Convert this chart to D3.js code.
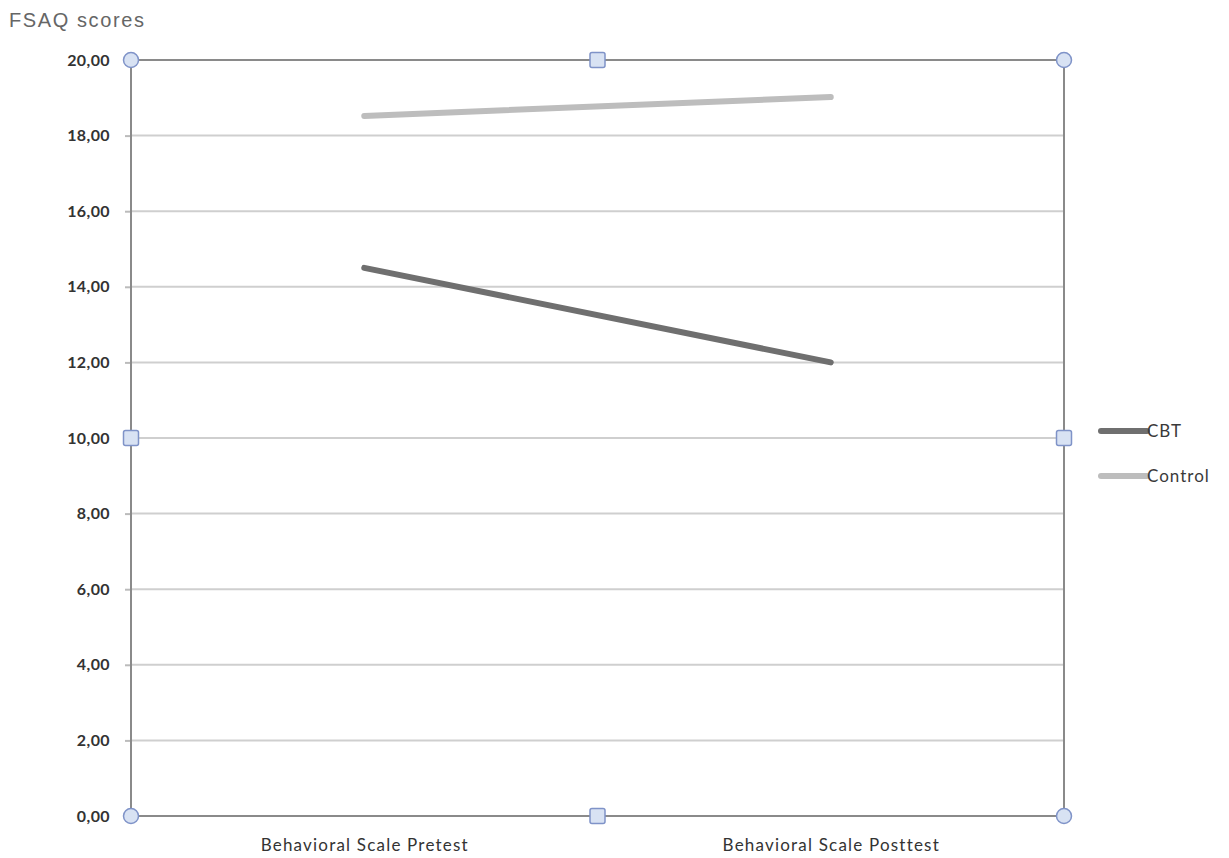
<!DOCTYPE html>
<html>
<head>
<meta charset="utf-8">
<script src="https://cdn.jsdelivr.net/npm/d3@7"></script>
<style>
  body { margin: 0; background: #fff; }
  svg { display: block; }
  .tick text { font-family: Lato, "Open Sans", sans-serif; fill: #333; }
</style>
</head>
<body>
<svg id="chart" width="1229" height="858"></svg>
<script>
const categories = ['Behavioral Scale Pretest', 'Behavioral Scale Posttest'];
const seriesNames = ['CBT', 'Control'];
const cbtValues = [14.5, 12.0];
const controlValues = [18.52, 19.02];
const yTicks = [0, 2, 4, 6, 8, 10, 12, 14, 16, 18, 20];

const svg = d3.select('#chart');
const plotL = 131, plotR = 1064, plotT = 60, plotB = 816;

const x = d3.scalePoint().domain(categories).range([plotL, plotR]).padding(0.5);
const y = d3.scaleLinear().domain([0, 20]).range([plotB, plotT]);
const fmt = d => d.toFixed(2).replace('.', ',');

// gridlines
svg.append('g')
  .selectAll('line')
  .data(yTicks.filter(d => d > 0 && d < 20))
  .enter().append('line')
  .attr('x1', plotL).attr('x2', plotR)
  .attr('y1', d => y(d)).attr('y2', d => y(d))
  .attr('stroke', '#cfcfcf').attr('stroke-width', 2);

// y axis
const yAxis = svg.append('g')
  .attr('transform', 'translate(' + plotL + ',0)')
  .call(d3.axisLeft(y).tickValues(yTicks).tickFormat(fmt).tickSize(6).tickPadding(15));
yAxis.select('.domain').remove();
yAxis.selectAll('.tick line').attr('stroke', '#bbb').attr('stroke-width', 2);
yAxis.selectAll('.tick text').attr('font-size', 16).attr('font-weight', 'bold').attr('fill', '#3a3a3a')
  .attr('letter-spacing', 0.4);

// x axis labels
const xAxis = svg.append('g')
  .attr('transform', 'translate(0,' + plotB + ')')
  .call(d3.axisBottom(x).tickSize(0).tickPadding(23));
xAxis.select('.domain').remove();
xAxis.selectAll('.tick text').attr('font-size', 17).attr('letter-spacing', 1.2).attr('fill', '#3a3a3a');

// frame
svg.append('rect')
  .attr('x', plotL).attr('y', plotT)
  .attr('width', plotR - plotL).attr('height', plotB - plotT)
  .attr('fill', 'none').attr('stroke', '#8a8a8a').attr('stroke-width', 2);

// series
const colors = { 'CBT': '#6f6f6f', 'Control': '#bdbdbd' };
const allSeries = [
  { name: 'CBT', values: cbtValues },
  { name: 'Control', values: controlValues }
];
const line = d3.line().x((d, i) => x(categories[i])).y(d => y(d));
svg.append('g').selectAll('path')
  .data(allSeries)
  .enter().append('path')
  .attr('d', d => line(d.values))
  .attr('fill', 'none')
  .attr('stroke', d => colors[d.name])
  .attr('stroke-width', 6)
  .attr('stroke-linecap', 'round');

// selection handles
const midX = (plotL + plotR) / 2, midY = (plotT + plotB) / 2;
const corners = [[plotL, plotT], [plotR, plotT], [plotL, plotB], [plotR, plotB]];
const mids = [[midX, plotT], [midX, plotB], [plotL, midY], [plotR, midY]];
svg.append('g').selectAll('circle')
  .data(corners).enter().append('circle')
  .attr('cx', d => d[0]).attr('cy', d => d[1]).attr('r', 7.5)
  .attr('fill', '#d8e2f3').attr('stroke', '#7f93c8').attr('stroke-width', 1.5);
svg.append('g').selectAll('rect')
  .data(mids).enter().append('rect')
  .attr('x', d => d[0] - 7.5).attr('y', d => d[1] - 7.5)
  .attr('width', 15).attr('height', 15).attr('rx', 2)
  .attr('fill', '#d8e2f3').attr('stroke', '#7f93c8').attr('stroke-width', 1.5);

// legend
const legend = svg.append('g').selectAll('g')
  .data(seriesNames).enter().append('g')
  .attr('transform', (d, i) => 'translate(1101,' + (431 + i * 45) + ')');
legend.append('line')
  .attr('x1', 0).attr('x2', 46)
  .attr('stroke', d => colors[d]).attr('stroke-width', 6).attr('stroke-linecap', 'round');
legend.append('text')
  .attr('x', 46).attr('dy', '0.38em')
  .attr('font-family', 'Lato, "Open Sans", sans-serif')
  .attr('font-size', 17).attr('letter-spacing', 1).attr('fill', '#3a3a3a')
  .text(d => d);

// title
svg.append('text')
  .attr('x', 9).attr('y', 27)
  .attr('font-family', '"Liberation Sans", Arial, sans-serif')
  .attr('font-size', 20).attr('letter-spacing', 1.6).attr('fill', '#666')
  .text('FSAQ scores');
</script>
</body>
</html>
